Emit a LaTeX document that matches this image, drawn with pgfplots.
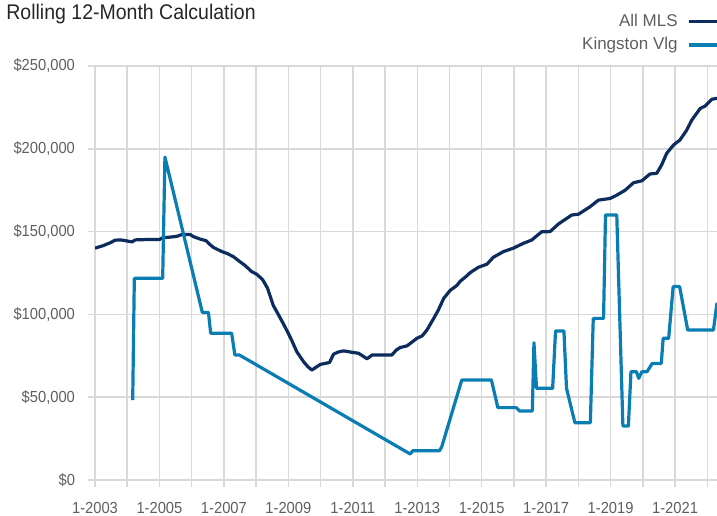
\documentclass[border=0pt]{standalone}
\usepackage{fontspec}
\setmainfont{Liberation Sans}[FakeStretch=0.92]
\newfontfamily\legfont{Liberation Sans}
\usepackage{pgfplots}
\pgfplotsset{compat=1.18}
\definecolor{navy}{HTML}{0D2C5E}
\definecolor{kblue}{HTML}{0A7DB2}
\definecolor{gridgrey}{HTML}{D9D9D9}
\definecolor{txtgrey}{HTML}{5F5F5F}
\begin{document}
\begin{tikzpicture}
\useasboundingbox (0pt,0pt) rectangle (358.5pt,257.5pt);
\node[anchor=base west, font=\fontsize{10.6}{12}\selectfont, text=black!85, inner sep=0pt] at (3pt,247.5pt) {Rolling 12-Month Calculation};
\begin{axis}[
  at={(47.5pt,17.5pt)}, anchor=south west,
  scale only axis, width=311pt, height=207pt,
  xmin=2003, xmax=2022.3, ymin=0, ymax=250,
  xtick={2003,...,2022},
  xticklabels={1-2003,{},1-2005,{},1-2007,{},1-2009,{},1-2011,{},1-2013,{},1-2015,{},1-2017,{},1-2019,{},1-2021,{}},
  ytick={0,50,100,150,200,250},
  yticklabels={\$0,{\$50,000},{\$100,000},{\$150,000},{\$200,000},{\$250,000}},
  grid=major, major grid style={gridgrey, line width=0.75pt},
  axis line style={draw=none},
  tick align=outside, major tick length=3.5pt,
  tick style={gridgrey, line width=0.75pt},
  xtick pos=bottom, ytick pos=left,
  ticklabel style={font=\fontsize{8}{9}\selectfont, text=txtgrey},
  yticklabel style={anchor=east, xshift=-3pt},
  xticklabel style={anchor=north, yshift=-4pt},
  legend cell align=right,
  legend style={draw=none, fill=none, at={(axis description cs:1.01,1)}, anchor=south east, yshift=4.5pt,
    font=\legfont\fontsize{8.5}{11}\selectfont, text=txtgrey, row sep=0pt, inner sep=0pt,
    cells={anchor=east}, /tikz/column 1/.style={column sep=3pt}},
  legend plot pos=right,
  legend image code/.code={\draw[#1] (0pt,0pt) -- (16pt,0pt);},
  clip=true,
]
\addplot[navy, line width=1.6pt, line join=round] coordinates {
(2003.0,140.0)(2003.25,141.5)(2003.5,143.5)(2003.62,144.8)(2003.8,145.0)(2003.95,144.5)
(2004.15,143.8)(2004.25,145.0)(2004.6,145.2)(2005.0,145.2)(2005.1,146.3)(2005.4,146.8)
(2005.55,147.2)(2005.7,148.3)(2005.95,148.3)(2006.05,147.0)(2006.26,145.5)(2006.45,144.5)
(2006.55,142.5)(2006.67,140.5)(2006.93,138.0)(2007.1,136.8)(2007.3,134.8)(2007.45,132.5)
(2007.66,129.5)(2007.85,126.0)(2008.02,124.2)(2008.2,121.0)(2008.35,116.0)(2008.53,105.5)
(2008.7,99.5)(2008.84,94.5)(2009.0,88.5)(2009.1,84.5)(2009.26,77.5)(2009.47,71.5)
(2009.6,68.5)(2009.73,66.4)(2009.85,68.0)(2009.99,69.8)(2010.14,70.4)(2010.28,71.0)
(2010.4,76.0)(2010.55,77.3)(2010.71,78.0)(2010.92,77.3)(2011.18,76.5)(2011.3,75.0)
(2011.44,73.2)(2011.6,75.5)(2012.21,75.5)(2012.35,78.5)(2012.47,80.0)(2012.68,81.0)
(2012.85,83.5)(2012.99,85.6)(2013.15,87.0)(2013.3,90.6)(2013.51,97.6)(2013.65,102.5)
(2013.82,109.7)(2014.02,114.5)(2014.23,117.5)(2014.33,120.0)(2014.49,122.5)(2014.64,125.2)
(2014.9,128.5)(2015.16,130.3)(2015.36,134.5)(2015.67,137.9)(2015.98,140.0)(2016.29,142.9)
(2016.55,144.9)(2016.86,149.9)(2017.12,150.0)(2017.38,154.6)(2017.6,157.5)(2017.79,160.0)
(2018.0,160.5)(2018.36,165.0)(2018.62,169.0)(2018.98,170.0)(2019.19,172.0)(2019.45,175.0)
(2019.71,179.5)(2019.97,180.7)(2020.22,184.8)(2020.43,185.2)(2020.58,190.2)(2020.74,197.3)
(2020.95,202.3)(2021.15,205.3)(2021.35,211.0)(2021.52,217.4)(2021.78,224.4)(2021.93,225.8)
(2022.14,229.9)(2022.3,230.5)
};
\addlegendentry{All MLS}
\addplot[kblue, line width=1.6pt, line join=round] coordinates {
(2004.17,48.3)(2004.22,121.8)(2005.1,121.8)(2005.17,195.0)(2006.33,101.2)(2006.52,101.2)
(2006.59,88.6)(2007.24,88.6)(2007.34,75.5)(2007.48,75.5)(2012.78,15.7)(2012.86,17.7)
(2013.69,17.7)(2013.76,20.1)(2014.38,60.4)(2015.3,60.4)(2015.5,43.7)(2016.07,43.7)
(2016.17,41.7)(2016.57,41.7)(2016.62,82.9)(2016.7,55.4)(2017.2,55.4)(2017.29,90.0)
(2017.55,90.0)(2017.63,55.4)(2017.89,34.6)(2018.37,34.6)(2018.46,97.6)(2018.78,97.6)
(2018.84,160.0)(2019.19,160.0)(2019.38,32.6)(2019.55,32.6)(2019.63,65.4)(2019.8,65.4)
(2019.87,61.4)(2019.97,65.4)(2020.13,65.4)(2020.29,70.4)(2020.57,70.4)(2020.63,85.6)
(2020.8,85.6)(2020.94,116.8)(2021.14,116.8)(2021.39,90.6)(2022.19,90.6)(2022.3,107)
};
\addlegendentry{Kingston Vlg}
\end{axis}
\end{tikzpicture}
\end{document}
